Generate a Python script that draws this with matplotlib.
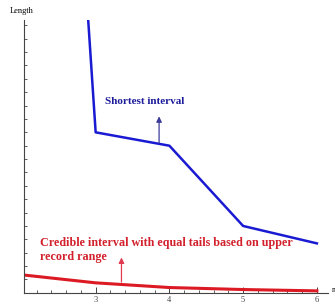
import matplotlib
matplotlib.use("Agg")
import matplotlib.pyplot as plt
import numpy as np

n_vals = [2, 3, 4, 5, 6]
shortest = [95, 12.0, 11.0, 5.0, 3.7]
credible = [1.35, 0.75, 0.4, 0.25, 0.15]

fig = plt.figure(figsize=(3.35, 3.07), dpi=100)
ax = fig.add_axes([0.072, 0.046, 0.907, 0.889])

ax.plot(n_vals, shortest, color="#1a1ad2", lw=1.8)
ax.plot(n_vals, credible, color="#dc1a24", lw=2.2)

ax.set_xlim(2.03, 6.15)
ax.set_ylim(0, 20.4)

for s in ["top", "right"]:
    ax.spines[s].set_visible(False)
for s in ["left", "bottom"]:
    ax.spines[s].set_color("#444444")
    ax.spines[s].set_linewidth(0.8)

ax.set_xticks([3, 4, 5, 6])
ax.set_xticklabels(["3", "4", "5", "6"], fontfamily="Liberation Serif", fontsize=6)
ax.set_xticks(np.arange(2.2, 6.1, 0.2), minor=True)
ax.set_yticks(np.arange(1, 20.5, 1))
ax.set_yticklabels([])
ax.tick_params(axis="x", which="major", direction="in", length=4, width=0.7, pad=2, colors="#444444")
ax.tick_params(axis="x", which="minor", direction="in", length=2, width=0.6, colors="#444444")
ax.tick_params(axis="y", which="major", direction="in", length=2.5, width=0.6, colors="#444444")

fig.text(0.03, 0.965, "Length", fontfamily="Liberation Serif", fontsize=6, va="center")
ax.text(6.2, 0.25, "n", fontfamily="Liberation Serif", fontsize=5.5, va="center",
        transform=ax.transData, clip_on=False)

ax.text(3.12, 14.1, "Shortest interval", color="#1a1a9a",
        fontfamily="Liberation Serif", fontweight="bold", fontsize=8)
ax.annotate("", xy=(3.86, 13.4), xytext=(3.86, 11.0),
            arrowprops=dict(arrowstyle="-|>", color="#3c3c9a", lw=0.9, mutation_scale=8))

ax.text(2.25, 3.2, "Credible interval with equal tails based on upper\nrecord range",
        color="#d2202c", linespacing=1.3, va="center",
        fontfamily="Liberation Serif", fontweight="bold", fontsize=8.7)
ax.annotate("", xy=(3.35, 2.85), xytext=(3.35, 0.6),
            arrowprops=dict(arrowstyle="-|>", color="#e03a50", lw=0.9, mutation_scale=8))

fig.savefig("out.png", dpi=100)
